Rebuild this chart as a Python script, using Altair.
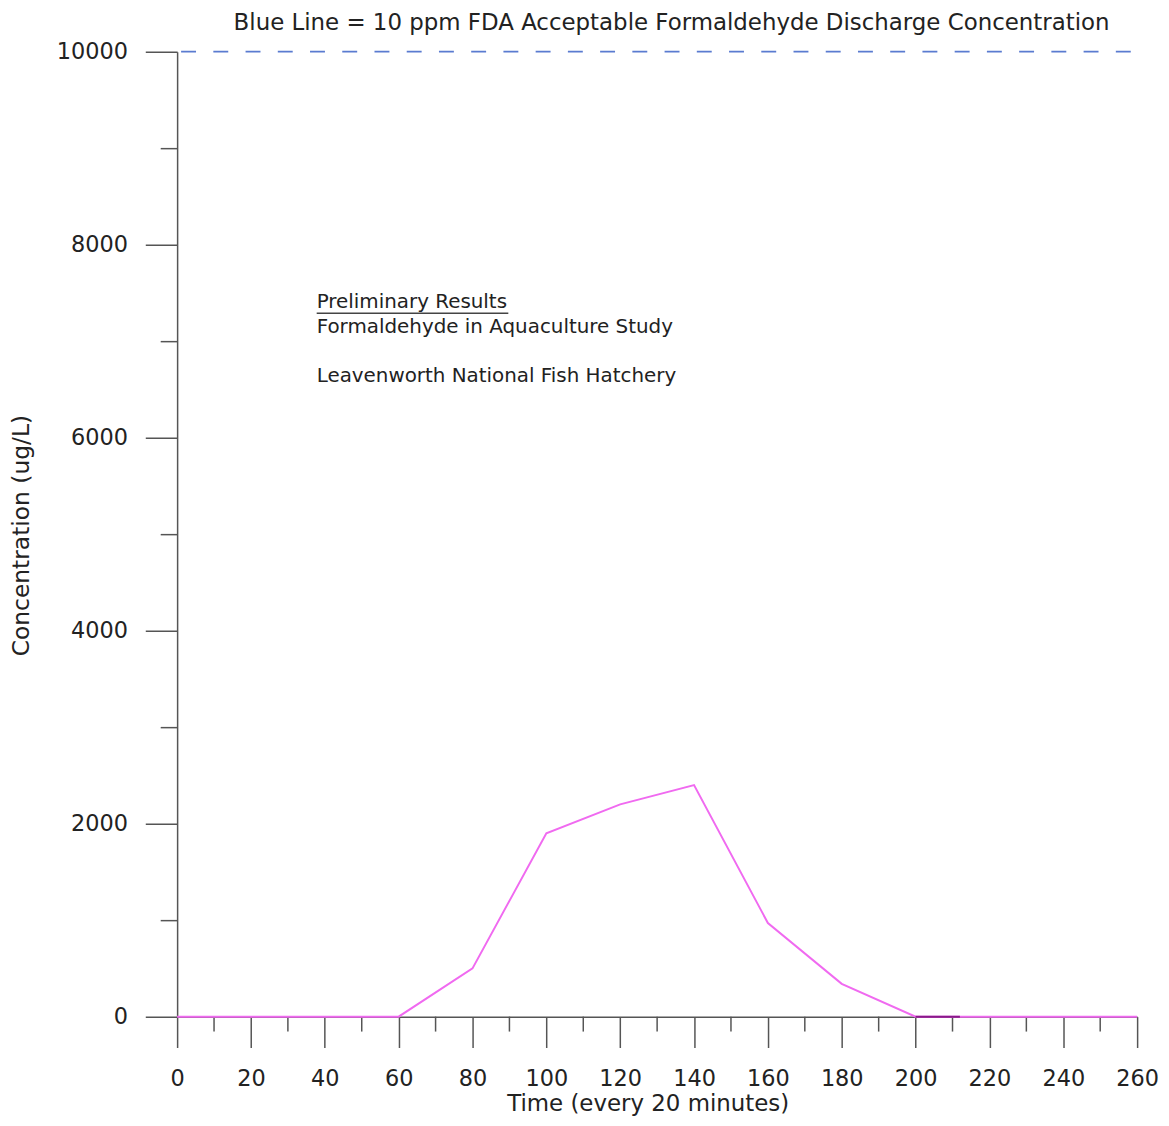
import altair as alt
import pandas as pd

# ---- data ----
time_min = [0, 20, 40, 60, 80, 100, 120, 140, 160, 180, 200, 220, 240, 260]
conc = [0, 0, 0, 0, 500, 1900, 2200, 2400, 970, 340, 0, 0, 0, 0]
dark_time = [200, 212]
dark_conc = [0, 0]
limit_value = [10000]
limit_start = [0]
limit_end = [260]
x_major_ticks = list(range(0, 261, 20))
x_minor_ticks = list(range(10, 260, 20))
y_ticks = list(range(0, 10001, 1000))

title_text = "Blue Line = 10 ppm FDA Acceptable Formaldehyde Discharge Concentration"
note_lines = ["Preliminary Results", "Formaldehyde in Aquaculture Study", "Leavenworth National Fish Hatchery"]
note_x = [37.8, 37.8, 37.8]
note_y = [7402, 7144, 6639]
underline_x = [37.8]
underline_x2 = [89.7]
underline_y = [7289]

FONT = "DejaVu Sans"
TXT = "#222222"
AX = "#555555"
W, H = 965, 970

main_df = pd.DataFrame({"t": time_min, "c": conc})
dark_df = pd.DataFrame({"t": dark_time, "c": dark_conc})
limit_df = pd.DataFrame({"c": limit_value, "x0": limit_start, "x1": limit_end})
minor_df = pd.DataFrame({"m": x_minor_ticks})
note_df = pd.DataFrame({"label": note_lines, "x": note_x, "y": note_y})
ul_df = pd.DataFrame({"x": underline_x, "x2": underline_x2, "y": underline_y})

xscale = alt.Scale(domain=[0, 260], nice=False, zero=False)
yscale = alt.Scale(domain=[0, 10000], nice=False)

x_axis = alt.Axis(
    values=x_major_ticks,
    format="d",
    grid=False,
    domainColor=AX,
    domainWidth=1.5,
    tickColor=AX,
    tickWidth=1.5,
    tickSize=31,
    labelFont=FONT,
    labelFontSize=22.5,
    labelColor=TXT,
    labelPadding=20,
    labelFlush=False,
    labelOverlap=False,
    title="Time (every 20 minutes)",
    titleFont=FONT,
    titleFontSize=23,
    titleFontWeight="normal",
    titleColor=TXT,
    titleX=473,
    titleY=87.5,
    titleAlign="center",
    titleBaseline="middle",
)

y_axis = alt.Axis(
    values=y_ticks,
    labelExpr="datum.value % 2000 === 0 ? datum.label : ''",
    format="d",
    grid=False,
    domainColor=AX,
    domainWidth=1.5,
    tickColor=AX,
    tickWidth=1.5,
    tickSize={"condition": {"test": "datum.value % 2000 === 0", "value": 32}, "value": 17},
    labelFont=FONT,
    labelFontSize=22.5,
    labelColor=TXT,
    labelPadding=18,
    labelFlush=False,
    labelOverlap=False,
    title="Concentration (ug/L)",
    titleFont=FONT,
    titleFontSize=23.5,
    titleFontWeight="normal",
    titleColor=TXT,
    titleX=-156,
    titleY=486,
    titleAlign="center",
    titleBaseline="middle",
)

base_line = alt.Chart(main_df).mark_line(color="#f06af0", strokeWidth=2).encode(
    x=alt.X("t:Q", scale=xscale, axis=x_axis),
    y=alt.Y("c:Q", scale=yscale, axis=y_axis),
)

dark_line = alt.Chart(dark_df).mark_line(color="#8a1a8a", strokeWidth=2).encode(
    x=alt.X("t:Q", scale=xscale),
    y=alt.Y("c:Q", scale=yscale),
)

minor_ticks = alt.Chart(minor_df).mark_rule(color=AX, strokeWidth=1.5).encode(
    x=alt.X("m:Q", scale=xscale),
    y=alt.value(H),
    y2=alt.value(H + 15),
)

limit_rule = alt.Chart(limit_df).mark_rule(
    color="#5a7bd0", strokeWidth=1.8, strokeDash=[15, 17.4], strokeDashOffset=28.4
).encode(
    x=alt.X("x0:Q", scale=xscale),
    x2="x1:Q",
    y=alt.Y("c:Q", scale=yscale),
)

notes = alt.Chart(note_df).mark_text(
    font=FONT, fontSize=20, align="left", baseline="middle", color=TXT
).encode(
    x=alt.X("x:Q", scale=xscale),
    y=alt.Y("y:Q", scale=yscale),
    text="label:N",
)

underline = alt.Chart(ul_df).mark_rule(color="#444444", strokeWidth=1.5).encode(
    x=alt.X("x:Q", scale=xscale),
    x2="x2:Q",
    y=alt.Y("y:Q", scale=yscale),
)

title_mark = alt.Chart(pd.DataFrame({"t": [title_text]})).mark_text(
    font=FONT, fontSize=23, align="center", baseline="middle", color=TXT
).encode(
    x=alt.value(497),
    y=alt.value(-29),
    text="t:N",
)

chart = alt.layer(limit_rule, minor_ticks, base_line, dark_line, underline, notes, title_mark).properties(
    width=W,
    height=H,
    autosize=alt.AutoSizeParams(type="none"),
    padding={"left": 170, "top": 41, "right": 24, "bottom": 99},
    background="white",
).configure_view(stroke=None)

chart.save("out.html", embed_options={"renderer": "svg", "actions": False})
